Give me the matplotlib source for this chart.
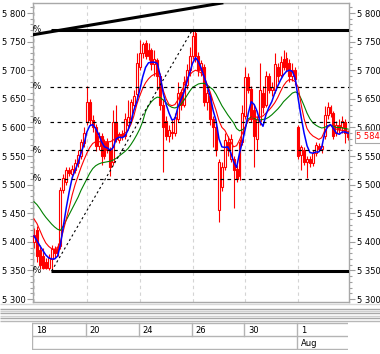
import matplotlib
matplotlib.use('Agg')
import matplotlib.pyplot as plt
from matplotlib.patches import Rectangle
from matplotlib.ticker import MultipleLocator, FuncFormatter
import numpy as np

W, H = 380, 354

# ---------------- data (hourly bars, 9 per day) ----------------
days = ['18', '19', '20', '23', '24', '25', '26', '27', '30', '31', '1', '2']
bars_per_day = 9
labeled_days = ['18', '20', '24', '26', '30', '1']
month_labels = {'1': 'Aug'}

opens = [5400, 5420, 5385, 5375, 5365, 5355, 5370, 5388, 5380,
         5392, 5490, 5505, 5525, 5518, 5526, 5538, 5550, 5572,
         5610, 5645, 5613, 5600, 5568, 5585, 5550, 5575, 5560,
         5540, 5610, 5578, 5588, 5585, 5605, 5615, 5640, 5658,
         5705, 5730, 5748, 5725, 5735, 5710, 5718, 5690, 5640,
         5612, 5585, 5592, 5590, 5615, 5662, 5640, 5675, 5700,
         5725, 5765, 5725, 5700, 5705, 5645, 5655, 5615, 5600,
         5455, 5495, 5530, 5575, 5545, 5545, 5528, 5515, 5575,
         5620, 5688, 5668, 5630, 5580, 5612, 5660, 5640, 5690,
         5665, 5665, 5705, 5692, 5720, 5722, 5712, 5690, 5700,
         5600, 5552, 5560, 5540, 5545, 5538, 5555, 5568, 5562,
         5585, 5622, 5635, 5625, 5590, 5605, 5600, 5610, 5590]
highs = [5425, 5428, 5395, 5390, 5372, 5378, 5395, 5392, 5398,
         5495, 5518, 5530, 5530, 5535, 5545, 5560, 5580, 5600,
         5672, 5650, 5622, 5606, 5592, 5590, 5580, 5582, 5565,
         5630, 5640, 5592, 5595, 5625, 5648, 5650, 5665, 5730,
         5752, 5750, 5752, 5748, 5738, 5735, 5722, 5695, 5650,
         5620, 5605, 5615, 5625, 5680, 5668, 5690, 5710, 5740,
         5771, 5771, 5732, 5718, 5710, 5668, 5660, 5620, 5612,
         5545, 5540, 5590, 5585, 5588, 5550, 5535, 5580, 5640,
         5706, 5695, 5672, 5640, 5620, 5713, 5672, 5698, 5695,
         5680, 5730, 5712, 5725, 5735, 5732, 5720, 5712, 5705,
         5605, 5570, 5565, 5550, 5550, 5560, 5575, 5572, 5572,
         5637, 5645, 5640, 5628, 5612, 5615, 5620, 5615, 5595]
lows = [5390, 5365, 5352, 5352, 5352, 5351, 5349, 5372, 5376,
        5388, 5485, 5500, 5515, 5512, 5520, 5530, 5545, 5565,
        5605, 5605, 5592, 5558, 5560, 5535, 5545, 5555, 5515,
        5535, 5575, 5572, 5578, 5580, 5600, 5610, 5635, 5650,
        5700, 5722, 5720, 5718, 5700, 5690, 5665, 5630, 5522,
        5578, 5575, 5580, 5585, 5610, 5630, 5635, 5668, 5690,
        5720, 5715, 5690, 5690, 5638, 5630, 5605, 5566, 5550,
        5435, 5488, 5525, 5550, 5540, 5459, 5505, 5508, 5570,
        5615, 5660, 5610, 5531, 5560, 5605, 5625, 5635, 5660,
        5655, 5660, 5680, 5688, 5700, 5698, 5680, 5682, 5675,
        5545, 5525, 5535, 5512, 5530, 5532, 5550, 5558, 5555,
        5580, 5615, 5618, 5580, 5585, 5590, 5590, 5572, 5578]
closes = [5412, 5375, 5360, 5355, 5355, 5372, 5388, 5380, 5390,
          5490, 5512, 5525, 5520, 5528, 5538, 5552, 5575, 5590,
          5645, 5613, 5600, 5568, 5585, 5550, 5575, 5560, 5530,
          5610, 5580, 5588, 5585, 5615, 5618, 5645, 5655, 5712,
          5730, 5745, 5725, 5735, 5710, 5720, 5690, 5640, 5600,
          5585, 5595, 5590, 5618, 5660, 5640, 5680, 5700, 5725,
          5760, 5725, 5700, 5712, 5645, 5660, 5615, 5600, 5560,
          5540, 5530, 5578, 5560, 5580, 5525, 5510, 5575, 5625,
          5688, 5665, 5615, 5585, 5615, 5665, 5635, 5690, 5665,
          5670, 5710, 5690, 5715, 5705, 5702, 5690, 5700, 5685,
          5550, 5565, 5540, 5545, 5538, 5555, 5570, 5562, 5568,
          5622, 5635, 5625, 5585, 5605, 5598, 5612, 5590, 5584]

ma_blue = [5410, 5402, 5393, 5385, 5377, 5372, 5370, 5370, 5375,
           5395, 5428, 5460, 5488, 5512, 5525, 5538, 5555, 5570,
           5592, 5603, 5605, 5598, 5588, 5575, 5566, 5564, 5560,
           5565, 5580, 5583, 5582, 5585, 5595, 5610, 5630, 5645,
           5665, 5688, 5705, 5713, 5714, 5714, 5712, 5690, 5660,
           5640, 5625, 5613, 5615, 5635, 5648, 5660, 5678, 5695,
           5712, 5722, 5715, 5703, 5688, 5672, 5655, 5630, 5612,
           5580, 5566, 5565, 5566, 5556, 5540, 5530, 5555, 5575,
           5598, 5625, 5645, 5640, 5628, 5610, 5602, 5622, 5635,
           5645, 5660, 5672, 5683, 5692, 5698, 5700, 5698, 5685,
           5650, 5618, 5590, 5568, 5556, 5555, 5557, 5557, 5565,
           5590, 5602, 5605, 5598, 5590, 5588, 5592, 5592, 5590]
ma_red = [5440, 5432, 5420, 5408, 5398, 5392, 5388, 5387, 5390,
          5400, 5420, 5440, 5460, 5482, 5500, 5515, 5530, 5543,
          5555, 5565, 5572, 5575, 5575, 5575, 5575, 5575, 5575,
          5578, 5582, 5585, 5588, 5590, 5595, 5605, 5620, 5640,
          5655, 5668, 5678, 5685, 5690, 5693, 5695, 5685, 5665,
          5650, 5640, 5638, 5640, 5648, 5660, 5672, 5685, 5692,
          5697, 5700, 5698, 5695, 5688, 5675, 5662, 5645, 5630,
          5612, 5600, 5595, 5585, 5575, 5566, 5568, 5578, 5590,
          5602, 5612, 5617, 5618, 5618, 5618, 5620, 5625, 5630,
          5636, 5643, 5652, 5663, 5673, 5680, 5684, 5683, 5680,
          5670, 5640, 5615, 5598, 5590, 5585, 5582, 5579, 5582,
          5594, 5600, 5604, 5600, 5597, 5595, 5595, 5594, 5593]
ma_green = [5470, 5465, 5458, 5450, 5443, 5437, 5431, 5426, 5422,
            5420, 5428, 5438, 5448, 5458, 5468, 5478, 5490, 5500,
            5510, 5520, 5528, 5533, 5536, 5538, 5539, 5540, 5541,
            5543, 5546, 5550, 5554, 5558, 5563, 5570, 5578, 5587,
            5597, 5610, 5628, 5638, 5645, 5650, 5653, 5652, 5648,
            5643, 5638, 5635, 5634, 5636, 5640, 5647, 5655, 5663,
            5670, 5673, 5676, 5677, 5677, 5674, 5670, 5666, 5658,
            5648, 5638, 5630, 5622, 5615, 5608, 5598, 5594, 5596,
            5600, 5615, 5618, 5616, 5613, 5613, 5614, 5615, 5618,
            5622, 5627, 5632, 5638, 5645, 5650, 5655, 5660, 5662,
            5660, 5650, 5638, 5625, 5615, 5608, 5604, 5601, 5599,
            5600, 5603, 5604, 5602, 5600, 5600, 5599, 5598, 5597]

fib_low, fib_high = 5349, 5771
fib_ratios = [0.236, 0.382, 0.5, 0.618]
trend_p1 = (-0.34, 5762)
trend_p2 = (63.4, 5817)

# ---------------- figure ----------------
fig = plt.figure(figsize=(W / 100, H / 100), dpi=100)
plt.rcParams['font.family'] = ['DejaVu Sans']

# overlay for decorations (pixel coords)
axo = fig.add_axes([0, 0, 1, 1], zorder=0)
axo.set_xlim(0, W)
axo.set_ylim(H, 0)
axo.axis('off')
for yy, col in [(303.5, '#d8d8d8'), (308.5, '#a8a8a8'), (310.5, '#d0d0d0'),
                (313.0, '#a8a8a8'), (315.5, '#d0d0d0'), (318.0, '#a8a8a8'),
                (320.5, '#b8b8b8')]:
    axo.plot([0, W], [yy, yy], color=col, lw=1.0, solid_capstyle='butt')

# main axes
ax = fig.add_axes([33 / W, 1 - 302 / H, (349 - 33) / W, (302 - 3) / H], zorder=2)
n = len(closes)
xi = np.arange(n)
xlim = (-0.35, 107.3)
ax.set_xlim(*xlim)
ax.set_ylim(5294.8, 5817.5)

# day grid
day_start = {d: k * bars_per_day for k, d in enumerate(days)}
for d in labeled_days:
    ax.axvline(day_start[d], color='#d4d4d4', lw=0.8, ls=(0, (3, 3)), zorder=0.5)

# candles
for i in xi:
    o, h, l, c = opens[i], highs[i], lows[i], closes[i]
    ax.vlines(i, l, h, color='red', lw=0.8, zorder=2)
    up = c >= o
    b = min(o, c)
    hgt = max(abs(c - o), 1.5)
    ax.add_patch(Rectangle((i - 0.33, b), 0.66, hgt,
                           facecolor='white' if up else 'red',
                           edgecolor='red', lw=0.8, zorder=3))

# moving averages
ax.plot(xi, ma_green, color='#008000', lw=0.8, zorder=4)
ax.plot(xi, ma_red, color='#ff0000', lw=0.8, zorder=4)
ax.plot(xi, ma_blue, color='#0000ff', lw=1.1, zorder=5)

# fibonacci retracement
i_low = int(np.argmin(lows))
i_high = int(np.argmax(highs))
xend = xlim[1] + 1
for r in fib_ratios:
    p = fib_high - r * (fib_high - fib_low)
    ax.plot([i_low - 0.6, xend], [p, p], color='black', lw=0.85,
            ls=(0, (3, 3)), zorder=6)
for p in (fib_low, fib_high):
    ax.plot([i_low - 0.2, xend], [p, p], color='black', lw=2.2,
            solid_capstyle='butt', zorder=6)
for p in [fib_high] + [fib_high - r * (fib_high - fib_low) for r in fib_ratios] + [fib_low]:
    ax.text(2.75, p, '0%', ha='right', va='center', fontsize=6,
            color='black', clip_on=True, zorder=7)

# trend lines
ax.plot([i_low, i_high], [fib_low, highs[i_high]], color='black', lw=0.8,
        ls=(0, (2, 2.5)), zorder=6)
ax.axline(trend_p1, trend_p2, color='black', lw=2.2, zorder=6)

# axes styling
for s in ax.spines.values():
    s.set_color('#a8a8a8')
    s.set_linewidth(1.0)
ax.set_xticks([])
ax.yaxis.set_major_locator(MultipleLocator(50))
ax.yaxis.set_minor_locator(MultipleLocator(10))
fmt = FuncFormatter(lambda v, p: f"{v:,.0f}".replace(',', ' '))
ax.yaxis.set_major_formatter(fmt)
ax.tick_params(axis='y', which='both', left=True, right=True,
               labelleft=True, labelright=True, colors='#a0a0a0',
               labelcolor='black', labelsize=6, width=0.8)
ax.tick_params(axis='y', which='major', length=4.5, pad=1)
ax.tick_params(axis='y', which='minor', length=2.2)
ax.set_yticks([v for v in range(5300, 5801, 50)])

# last price tag
last = closes[-1]
ax.annotate(f"{last:,}".replace(',', ' '), xy=(1, last),
            xycoords=('axes fraction', 'data'), xytext=(5.2, 0),
            textcoords='offset points', ha='left', va='center',
            color='red', fontsize=6, annotation_clip=False, zorder=10,
            bbox=dict(boxstyle='square,pad=0.2', fc='white', ec='#a8a8a8', lw=0.8))

# date axis box
axd = fig.add_axes([32 / W, 1 - 350 / H, (348 - 32) / W, (350 - 322) / H], zorder=1)
axd.set_xlim(*xlim)
axd.set_ylim(350, 322)
axd.axis('off')
gc = '#b4b4b4'
for yy in (323.5, 336.5, 349.5):
    axd.plot(list(xlim), [yy, yy], color=gc, lw=1.0, solid_capstyle='butt')
axd.plot([xlim[0] + 0.15, xlim[0] + 0.15], [323.5, 349.5], color=gc, lw=1.0)
for d in labeled_days:
    xs = day_start[d]
    if xs > 0:
        y2 = 349.5 if d in month_labels else 336.5
        axd.plot([xs, xs], [323.5, y2], color=gc, lw=1.0)
    axd.text(xs + 1.2, 330.2, d, ha='left', va='center', fontsize=6, color='black')
    if d in month_labels:
        axd.text(xs + 1.2, 343.2, month_labels[d], ha='left', va='center',
                 fontsize=6, color='black')

fig.savefig('out.png', dpi=100)
